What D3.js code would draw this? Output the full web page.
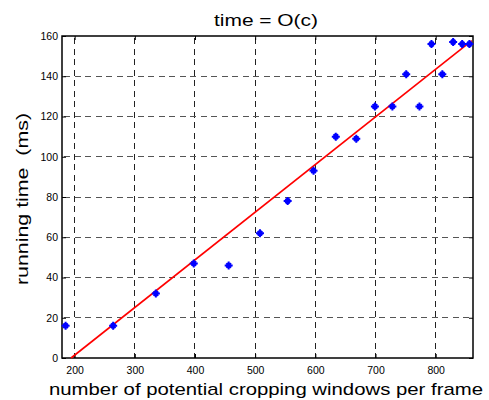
<!DOCTYPE html>
<html>
<head>
<meta charset="utf-8">
<script src="https://cdn.jsdelivr.net/npm/d3@7"></script>
<style>
  body { margin: 0; background: #fff; }
  text { font-family: "Liberation Sans", Arial, sans-serif; fill: #000; }
</style>
</head>
<body>
<script>
var windowsPerFrame = [185, 264, 335, 398, 456, 508, 554, 597, 634, 668, 699, 728, 751, 773, 793, 811, 829, 844, 856];
var runningTimeMs  = [16, 16, 32, 47, 46, 62, 78, 93, 110, 109, 125, 125, 141, 125, 156, 141, 157, 156, 156];

// linear fit, two end points
var fitX = [194, 860];
var fitY = [0, 157.7];

var xTicks = [200, 300, 400, 500, 600, 700, 800];
var yTicks = [0, 20, 40, 60, 80, 100, 120, 140, 160];

var width = 489, height = 400;
var margin = {top: 36, right: 16, bottom: 42, left: 62};

var svg = d3.select("body").append("svg")
    .attr("width", width)
    .attr("height", height);

var x = d3.scaleLinear().domain([179, 862]).range([margin.left, width - margin.right]);
var y = d3.scaleLinear().domain([0, 160]).range([height - margin.bottom, margin.top]);

var x0 = x.range()[0], x1 = x.range()[1], y0 = y.range()[0], y1 = y.range()[1];

// dashed grid
svg.append("g").selectAll("line")
    .data(xTicks).enter().append("line")
    .attr("x1", function(d) { return x(d); })
    .attr("x2", function(d) { return x(d); })
    .attr("y1", y1 + 2).attr("y2", y0)
    .attr("stroke", "#222").attr("stroke-width", 1)
    .attr("stroke-dasharray", "6,4.5")
    .attr("shape-rendering", "crispEdges");

svg.append("g").selectAll("line")
    .data(yTicks.slice(1, -1)).enter().append("line")
    .attr("x1", x0 + 2).attr("x2", x1)
    .attr("y1", function(d) { return y(d); })
    .attr("y2", function(d) { return y(d); })
    .attr("stroke", "#555").attr("stroke-width", 1)
    .attr("stroke-dasharray", "6,4.5")
    .attr("shape-rendering", "crispEdges");

// axes
var xAxis = d3.axisBottom(x).tickValues(xTicks).tickSize(-4).tickPadding(9);
var yAxis = d3.axisLeft(y).tickValues(yTicks).tickSize(-4).tickPadding(4);

var gx = svg.append("g").attr("transform", "translate(0," + y0 + ")").call(xAxis);
var gy = svg.append("g").attr("transform", "translate(" + x0 + ",0)").call(yAxis);

// mirrored ticks on top/right like matlab box
svg.append("g").attr("transform", "translate(0," + y1 + ")")
    .call(d3.axisTop(x).tickValues(xTicks).tickSize(-4).tickFormat(""));
svg.append("g").attr("transform", "translate(" + x1 + ",0)")
    .call(d3.axisRight(y).tickValues(yTicks).tickSize(-4).tickFormat(""));

svg.selectAll(".domain").remove();
svg.selectAll(".tick line").attr("stroke", "#000");
svg.selectAll(".tick text").style("font-size", "10.5px");

// box
svg.append("rect")
    .attr("x", x0).attr("y", y1)
    .attr("width", x1 - x0).attr("height", y0 - y1)
    .attr("fill", "none").attr("stroke", "#000").attr("stroke-width", 1.5);

var plot = svg.append("g");

// fit line
plot.append("line")
    .attr("x1", x(fitX[0])).attr("y1", y(fitY[0]))
    .attr("x2", x(fitX[1])).attr("y2", y(fitY[1]))
    .attr("stroke", "#ff0000").attr("stroke-width", 1.6);

// asterisk markers
var r = 4;
plot.selectAll("path.pt")
    .data(windowsPerFrame).enter().append("path")
    .attr("class", "pt")
    .attr("transform", function(d, i) { return "translate(" + x(d) + "," + y(runningTimeMs[i]) + ")"; })
    .attr("d", "M" + (-r) + ",0L" + r + ",0M0," + (-r) + "L0," + r +
               "M-2.3,-2.3L2.3,2.3M-2.3,2.3L2.3,-2.3")
    .attr("stroke", "#0000ff").attr("stroke-width", 2)
    .attr("fill", "none");

// labels
svg.append("text")
    .attr("x", 266).attr("y", 25.5)
    .attr("text-anchor", "middle")
    .attr("textLength", 104).attr("lengthAdjust", "spacingAndGlyphs")
    .style("font-size", "16px")
    .text("time = O(c)");

svg.append("text")
    .attr("x", 266).attr("y", 395)
    .attr("text-anchor", "middle")
    .attr("textLength", 434).attr("lengthAdjust", "spacingAndGlyphs")
    .style("font-size", "17px")
    .text("number of potential cropping windows per frame");

svg.append("text")
    .attr("transform", "translate(28,199) rotate(-90)")
    .attr("text-anchor", "middle")
    .attr("textLength", 172).attr("lengthAdjust", "spacingAndGlyphs")
    .style("font-size", "17px")
    .style("white-space", "pre")
    .text("running time  (ms)");
</script>
</body>
</html>
